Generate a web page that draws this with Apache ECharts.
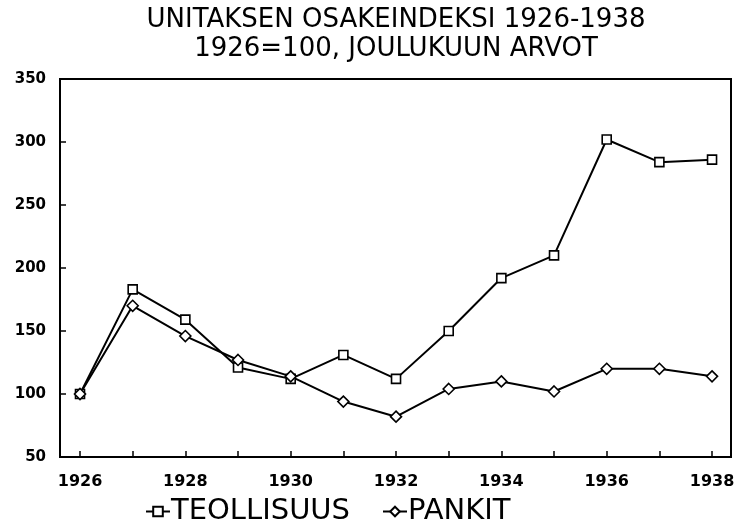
<!DOCTYPE html>
<html>
<head>
<meta charset="utf-8">
<script src="https://cdn.jsdelivr.net/npm/echarts@6/dist/echarts.min.js"></script>
<style>
  html, body { margin: 0; padding: 0; background: #fff; }
  #chart { width: 745px; height: 530px; }
</style>
</head>
<body>
<div id="chart"></div>
<script>
  const years = [1926, 1927, 1928, 1929, 1930, 1931, 1932, 1933, 1934, 1935, 1936, 1937, 1938]
  const teollisuus = [100, 183, 159, 121, 112, 131, 112, 150, 192, 210, 302, 284, 286]
  const pankit = [100, 170, 146, 127, 114, 94, 82, 104, 110, 102, 120, 120, 114]
  const yearLabels = [1926, 1928, 1930, 1932, 1934, 1936, 1938]

  const font = 'DejaVu Sans'

  const generateSeries = (name, data, symbol, size) => {
    return {
      name,
      type: 'line',
      data: years.map((y, i) => [y, data[i]]),
      symbol,
      symbolSize: size,
      showSymbol: true,
      lineStyle: { color: '#000', width: 2 },
      itemStyle: { color: '#fff', borderColor: '#000', borderWidth: 1.6 },
      animation: false
    }
  }

  const chart = echarts.init(document.getElementById('chart'))
  chart.setOption({
    backgroundColor: '#fff',
    title: {
      text: 'UNITAKSEN OSAKEINDEKSI 1926-1938\n1926=100, JOULUKUUN ARVOT',
      left: 391,
      textAlign: 'center',
      top: 1,
      textStyle: {
        fontFamily: font,
        fontWeight: 'normal',
        fontSize: 26,
        lineHeight: 29,
        color: '#000'
      }
    },
    legend: {
      bottom: -1,
      left: 140,
      itemWidth: 24,
      itemHeight: 12,
      itemGap: 32,
      textStyle: {
        fontFamily: font,
        fontSize: 29,
        color: '#000',
        padding: [0, 0, 0, -4]
      },
      data: ['TEOLLISUUS', 'PANKIT']
    },
    grid: {
      left: 60,
      right: 14,
      top: 79,
      bottom: 73,
      show: true,
      borderColor: '#000',
      borderWidth: 2
    },
    xAxis: {
      type: 'value',
      min: 1925.62,
      max: 1938.36,
      splitLine: { show: false },
      axisLine: { lineStyle: { color: '#000', width: 2 } },
      axisTick: {
        inside: true,
        length: 6,
        lineStyle: { color: '#000', width: 1.5 },
        customValues: years
      },
      axisLabel: {
        customValues: yearLabels,
        formatter: v => String(v),
        color: '#000',
        fontFamily: font,
        fontWeight: 'bold',
        fontSize: 16,
        margin: 17
      }
    },
    yAxis: {
      type: 'value',
      min: 50,
      max: 350,
      interval: 50,
      splitLine: { show: false },
      axisLine: { show: true, lineStyle: { color: '#000', width: 2 } },
      axisTick: { show: true, inside: true, length: 6, lineStyle: { color: '#000', width: 1.5 } },
      axisLabel: {
        color: '#000',
        fontFamily: font,
        fontWeight: 'bold',
        fontSize: 15,
        margin: 14
      }
    },
    series: [
      generateSeries('TEOLLISUUS', teollisuus, 'rect', 9),
      generateSeries('PANKIT', pankit, 'diamond', 11)
    ]
  })
</script>
</body>
</html>
